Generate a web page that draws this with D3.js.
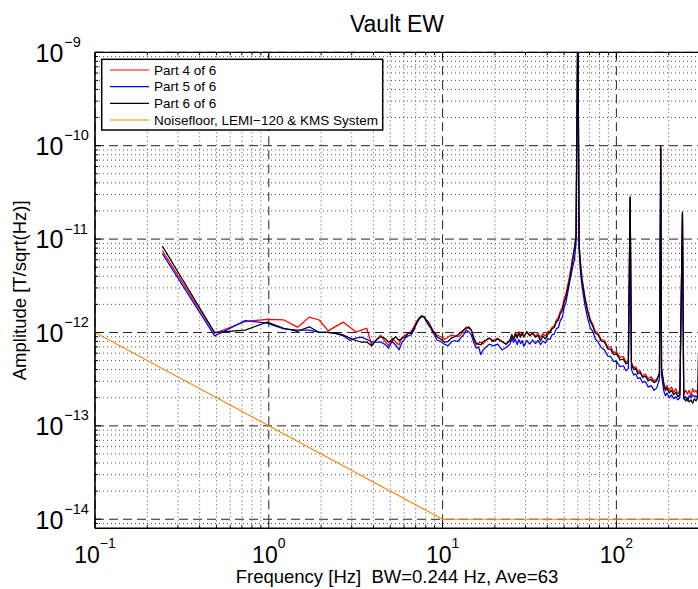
<!DOCTYPE html>
<html>
<head>
<meta charset="utf-8">
<script src="https://cdn.jsdelivr.net/npm/d3@7"></script>
<style>
  html, body { margin: 0; padding: 0; background: #fff; }
  svg { display: block; font-family: "Liberation Sans", Arial, Helvetica, sans-serif; }
</style>
</head>
<body>
<svg id="chart" width="698" height="589"></svg>
<script>
// ---------------- DATA ----------------
const titleText = "Vault EW";
const xLabelText = "Frequency [Hz]  BW=0.244 Hz, Ave=63";
const yLabelText = "Amplitude [T/sqrt(Hz)]";
const seriesNames = ["Part 4 of 6", "Part 5 of 6", "Part 6 of 6", "Noisefloor, LEMI\u2212120 & KMS System"];

const xMajorTicks = [0.1, 1, 10, 100];
const xTickExponents = ["\u22121", "0", "1", "2"];
const yMajorTicks = [1e-9, 1e-10, 1e-11, 1e-12, 1e-13, 1e-14];
const yTickExponents = ["\u22129", "\u221210", "\u221211", "\u221212", "\u221213", "\u221214"];

const freqs = [
  0.244, 0.488, 0.732, 0.977, 1.221, 1.465, 1.709, 1.953, 2.197, 2.441,
  2.686, 2.930, 3.174, 3.418, 3.662, 3.906, 4.150, 4.395, 4.639, 4.883,
  5.127, 5.371, 5.615, 5.859, 6.104, 6.348, 6.592, 6.836, 7.080, 7.324,
  7.568, 7.813, 8.057, 8.301, 8.545, 8.789, 9.033, 9.277, 9.766, 10.25,
  10.74, 11.23, 11.72, 12.21, 12.70, 13.18, 13.67, 14.16, 14.65, 15.14,
  15.63, 16.11, 16.60,
  17.09, 17.82, 18.55, 19.53, 20.75, 21.97, 23.19,
  24.41, 25.02, 25.63, 26.25, 26.86, 27.47, 28.08, 28.69, 29.30, 30.52,
  31.74, 32.96, 34.18, 35.40, 36.62, 37.84, 39.06, 40.28, 41.50, 42.72,
  43.95, 45.17, 46.39, 47.61, 48.83, 50.05, 51.27,
  53.71, 56.15, 57.37, 58.59, 60.00, 61.04, 62.26, 63.48, 65.92,
  68.36, 70.80, 73.24, 75.68, 78.13, 81.79, 85.45, 89.11, 92.77, 96.43,
  100.1, 105.0, 109.9, 113.5, 117.2, 120.0, 122.1, 125.7, 129.4, 133.1,
  136.7, 141.6, 146.5, 152.6, 158.7, 164.8, 170.9, 177.0, 180.0, 181.9,
  188.0, 191.7, 195.3, 201.4, 207.5, 213.6, 219.7, 225.8, 231.9, 240.0,
  244.1, 250.2, 256.3, 262.5, 268.6, 274.7, 280.8, 286.9, 293.0, 296.6,
  300.0
];

const part4 = [
  7.5e-12, 9.8e-13, 1.31e-12, 1.38e-12, 1.36e-12, 1.14e-12, 1.46e-12, 1.36e-12, 1.04e-12, 1.17e-12,
  1.29e-12, 1.14e-12, 1.01e-12, 1.06e-12, 1.11e-12, 7.35e-13, 8.3e-13, 9.3e-13, 8.2e-13, 7.2e-13,
  8.7e-13, 7.9e-13, 7.35e-13, 8.9e-13, 9.4e-13, 9.8e-13, 1.02e-12, 1.15e-12, 1.31e-12, 1.42e-12,
  1.51e-12, 1.48e-12, 1.36e-12, 1.31e-12, 1.17e-12, 1.06e-12, 9.8e-13, 9.4e-13, 9.0e-13, 8.45e-13,
  8.9e-13, 9.4e-13, 9.2e-13, 9.0e-13, 9.4e-13, 1.05e-12, 1.14e-12, 1.1e-12, 1.06e-12, 8.3e-13,
  7.35e-13, 7.7e-13, 7.9e-13,
  7.5e-13, 8.3e-13, 8.7e-13, 8.2e-13, 8.7e-13, 8.0e-13, 7.5e-13,
  8.3e-13, 9.6e-13, 8.6e-13, 1.0e-12, 9.0e-13, 1.02e-12, 9.2e-13, 1.01e-12, 8.9e-13, 1.03e-12,
  9.3e-13, 1.0e-12, 9.1e-13, 9.8e-13, 8.8e-13, 9.7e-13, 9.2e-13, 1.02e-12, 1.04e-12, 1.14e-12,
  1.18e-12, 1.36e-12, 1.45e-12, 1.7e-12, 1.85e-12, 2.3e-12, 2.6e-12,
  3.96e-12, 6.5e-12, 8.2e-12, 1.1e-11, 3e-9, 9.0e-12, 5.5e-12, 3.8e-12, 2.42e-12,
  1.74e-12, 1.38e-12, 1.22e-12, 1.02e-12, 1.0e-12, 8.4e-13, 8.2e-13, 7.0e-13, 7.0e-13, 6.1e-13,
  6.2e-13, 5.4e-13, 5.5e-13, 4.8e-13, 5.0e-13, 2.9e-11, 4.8e-13, 4.2e-13, 4.3e-13, 3.8e-13,
  3.9e-13, 3.4e-13, 3.6e-13, 3.2e-13, 3.35e-13, 3.0e-13, 3.2e-13, 3.6e-13, 9.5e-11, 4.0e-13,
  2.8e-13, 2.5e-13, 2.7e-13, 2.4e-13, 2.6e-13, 2.3e-13, 2.5e-13, 2.2e-13, 2.4e-13, 1.85e-11,
  2.2e-13, 2.4e-13, 2.2e-13, 2.4e-13, 2.1e-13, 2.5e-13, 2.3e-13, 2.4e-13, 2.2e-13, 2.3e-13,
  2.2e-13
];

const part5 = [
  7.0e-12, 9.2e-13, 1.34e-12, 1.26e-12, 1.09e-12, 1.06e-12, 1.06e-12, 1.0e-12, 1.0e-12, 9.7e-13,
  9.2e-13, 8.2e-13, 8.7e-13, 8.9e-13, 8.45e-13, 7.9e-13, 7.9e-13, 7.9e-13, 7.5e-13, 6.8e-13,
  8.0e-13, 7.35e-13, 6.5e-13, 7.9e-13, 8.7e-13, 9.2e-13, 9.4e-13, 1.06e-12, 1.24e-12, 1.38e-12,
  1.48e-12, 1.46e-12, 1.31e-12, 1.2e-12, 1.11e-12, 1.0e-12, 9.2e-13, 8.3e-13, 8.0e-13, 7.5e-13,
  7.2e-13, 7.9e-13, 8.2e-13, 8.0e-13, 8.7e-13, 9.4e-13, 1.06e-12, 1.02e-12, 9.4e-13, 7.7e-13,
  6.8e-13, 7.0e-13, 5.8e-13,
  6.5e-13, 7.0e-13, 7.5e-13, 7.2e-13, 7.5e-13, 6.5e-13, 6.9e-13,
  7.5e-13, 8.6e-13, 7.8e-13, 8.5e-13, 7.4e-13, 8.4e-13, 7.6e-13, 8.2e-13, 7.1e-13, 8.2e-13,
  7.5e-13, 8.3e-13, 7.6e-13, 8.2e-13, 7.4e-13, 8.1e-13, 7.7e-13, 8.6e-13, 8.4e-13, 9.5e-13,
  9.6e-13, 1.1e-12, 1.13e-12, 1.35e-12, 1.45e-12, 1.85e-12, 2.1e-12,
  3.37e-12, 5.1e-12, 6.0e-12, 9.0e-12, 2.5e-9, 7.4e-12, 4.3e-12, 3.1e-12, 1.96e-12,
  1.42e-12, 1.12e-12, 1.02e-12, 8.5e-13, 8.0e-13, 6.9e-13, 6.5e-13, 5.6e-13, 5.5e-13, 4.9e-13,
  4.9e-13, 4.3e-13, 4.4e-13, 3.9e-13, 4.1e-13, 2.7e-11, 4.0e-13, 3.5e-13, 3.6e-13, 3.2e-13,
  3.3e-13, 2.9e-13, 3.0e-13, 2.6e-13, 2.7e-13, 2.4e-13, 2.55e-13, 3.2e-13, 9.0e-11, 3.5e-13,
  2.3e-13, 2.1e-13, 2.25e-13, 2.0e-13, 2.15e-13, 1.95e-13, 2.05e-13, 1.9e-13, 2.0e-13, 1.95e-11,
  1.95e-13, 2.05e-13, 1.85e-13, 2.1e-13, 2.0e-13, 2.15e-13, 2.05e-13, 2.1e-13, 2.0e-13, 2.1e-13,
  2.0e-13
];

const part6 = [
  8.4e-12, 1.0e-12, 1.06e-12, 1.29e-12, 1.11e-12, 1.03e-12, 1.15e-12, 1.0e-12, 1.0e-12, 9.8e-13,
  9.4e-13, 8.7e-13, 8.2e-13, 7.9e-13, 7.9e-13, 7.2e-13, 8.3e-13, 9.0e-13, 8.7e-13, 7.9e-13,
  8.2e-13, 9.0e-13, 8.2e-13, 8.7e-13, 9.0e-13, 9.8e-13, 9.8e-13, 1.11e-12, 1.26e-12, 1.42e-12,
  1.5e-12, 1.48e-12, 1.36e-12, 1.24e-12, 1.15e-12, 1.03e-12, 9.8e-13, 9.0e-13, 8.45e-13, 7.9e-13,
  8.0e-13, 8.7e-13, 9.0e-13, 9.4e-13, 1.0e-12, 1.06e-12, 1.11e-12, 1.15e-12, 1.06e-12, 8.7e-13,
  7.7e-13, 7.5e-13, 7.35e-13,
  8.0e-13, 8.3e-13, 8.7e-13, 8.0e-13, 8.45e-13, 8.0e-13, 7.5e-13,
  8.2e-13, 9.3e-13, 8.4e-13, 9.7e-13, 8.7e-13, 9.9e-13, 8.9e-13, 1.0e-12, 9.0e-13, 1.01e-12,
  9.2e-13, 9.8e-13, 8.9e-13, 9.3e-13, 8.1e-13, 9.2e-13, 8.5e-13, 9.6e-13, 1.0e-12, 1.1e-12,
  1.13e-12, 1.3e-12, 1.36e-12, 1.6e-12, 1.72e-12, 2.1e-12, 2.4e-12,
  3.6e-12, 6.0e-12, 7.9e-12, 1.05e-11, 3e-9, 8.2e-12, 5.1e-12, 3.6e-12, 2.3e-12,
  1.67e-12, 1.32e-12, 1.16e-12, 9.8e-13, 9.5e-13, 8.1e-13, 7.9e-13, 6.7e-13, 6.6e-13, 5.8e-13,
  5.9e-13, 5.1e-13, 5.2e-13, 4.6e-13, 4.8e-13, 2.8e-11, 4.6e-13, 4.0e-13, 4.1e-13, 3.6e-13,
  3.75e-13, 3.3e-13, 3.4e-13, 3.05e-13, 3.15e-13, 2.9e-13, 3.05e-13, 3.7e-13, 1.0e-10, 4.2e-13,
  2.65e-13, 2.4e-13, 2.55e-13, 2.25e-13, 2.4e-13, 2.15e-13, 2.3e-13, 2.05e-13, 2.15e-13, 1.9e-11,
  2.0e-13, 1.85e-13, 2.0e-13, 1.8e-13, 1.9e-13, 1.75e-13, 1.95e-13, 1.85e-13, 2.0e-13, 6.0e-13,
  2.0e-13
];

const noiseFreqs = [0.1, 10, 300];
const noiseVals = [1e-12, 1e-14, 1e-14];

const seriesColors = ["#ff0000", "#0000ff", "#000000", "#ff8000"];

// ---------------- LAYOUT ----------------
const svg = d3.select("#chart");
const pL = 95, pR = 699.3, pT = 52.3, pB = 528.3;
const x = d3.scaleLog().domain([0.1, 300]).range([pL, pR]);
const y = d3.scaleLog().domain([8e-15, 1e-9]).range([pB, pT]);

const xMinor = [];
[0.1, 1, 10, 100].forEach(d => {
  for (let m = 2; m <= 9; m++) { const v = +(d * m).toPrecision(3); if (v < 299) xMinor.push(v); }
});
const yMinor = [9e-15];
[1e-14, 1e-13, 1e-12, 1e-11, 1e-10].forEach(d => {
  for (let m = 2; m <= 9; m++) yMinor.push(+(d * m).toPrecision(3));
});

const grid = svg.append("g");
grid.selectAll(".xmin").data(xMinor).enter().append("line")
  .attr("x1", d => x(d)).attr("x2", d => x(d)).attr("y1", pT).attr("y2", pB)
  .attr("stroke", "#555").attr("stroke-width", 1).attr("stroke-dasharray", "1,3");
grid.selectAll(".ymin").data(yMinor).enter().append("line")
  .attr("x1", pL).attr("x2", pR).attr("y1", d => y(d)).attr("y2", d => y(d))
  .attr("stroke", "#555").attr("stroke-width", 1).attr("stroke-dasharray", "1,3");
grid.selectAll(".xmaj").data(xMajorTicks).enter().append("line")
  .attr("x1", d => x(d)).attr("x2", d => x(d)).attr("y1", pT).attr("y2", pB)
  .attr("stroke", "#222").attr("stroke-width", 1).attr("stroke-dasharray", "9,5");
grid.selectAll(".ymaj").data(yMajorTicks).enter().append("line")
  .attr("x1", pL).attr("x2", pR).attr("y1", d => y(d)).attr("y2", d => y(d))
  .attr("stroke", "#222").attr("stroke-width", 1).attr("stroke-dasharray", "9,5");

const ticks = svg.append("g").attr("stroke", "#000").attr("stroke-width", 1);
xMajorTicks.forEach(v => {
  ticks.append("line").attr("x1", x(v)).attr("x2", x(v)).attr("y1", pB).attr("y2", pB - 6);
  ticks.append("line").attr("x1", x(v)).attr("x2", x(v)).attr("y1", pT).attr("y2", pT + 6);
});
xMinor.forEach(v => {
  ticks.append("line").attr("x1", x(v)).attr("x2", x(v)).attr("y1", pB).attr("y2", pB - 3);
  ticks.append("line").attr("x1", x(v)).attr("x2", x(v)).attr("y1", pT).attr("y2", pT + 3);
});
yMajorTicks.forEach(v => {
  ticks.append("line").attr("x1", pL).attr("x2", pL + 6).attr("y1", y(v)).attr("y2", y(v));
});
yMinor.forEach(v => {
  ticks.append("line").attr("x1", pL).attr("x2", pL + 3).attr("y1", y(v)).attr("y2", y(v));
});

svg.append("clipPath").attr("id", "plotclip").append("rect")
  .attr("x", pL).attr("y", pT).attr("width", pR - pL).attr("height", pB - pT);
const plot = svg.append("g").attr("clip-path", "url(#plotclip)");

const line = d3.line().x(d => x(d[0])).y(d => y(d[1]));
const allSeries = [part4, part5, part6];
plot.append("path").datum(noiseFreqs.map((f, i) => [f, noiseVals[i]]))
  .attr("d", line).attr("fill", "none").attr("stroke", seriesColors[3]).attr("stroke-width", 1.1);
allSeries.forEach((s, si) => {
  const n = Math.min(s.length, freqs.length);
  plot.append("path").datum(freqs.slice(0, n).map((f, i) => [f, s[i]]))
    .attr("d", line).attr("fill", "none").attr("stroke", seriesColors[si])
    .attr("stroke-width", 1.25).attr("stroke-linejoin", "round");
});

svg.append("line").attr("x1", pL).attr("x2", pL).attr("y1", pT).attr("y2", pB)
  .attr("stroke", "#000").attr("stroke-width", 1.6);
svg.append("line").attr("x1", pL).attr("x2", pR).attr("y1", pB).attr("y2", pB)
  .attr("stroke", "#000").attr("stroke-width", 1.6);
svg.append("line").attr("x1", pL).attr("x2", pR).attr("y1", pT).attr("y2", pT)
  .attr("stroke", "#000").attr("stroke-width", 1.3);

xMajorTicks.forEach((v, i) => {
  const t = svg.append("text").attr("x", x(v)).attr("y", 562.7)
    .attr("text-anchor", "middle").attr("font-size", 23).attr("fill", "#000");
  t.append("tspan").text("10");
  t.append("tspan").attr("dy", -14.5).attr("font-size", 14).text(xTickExponents[i]);
});
yMajorTicks.forEach((v, i) => {
  const t = svg.append("text").attr("x", 35.5).attr("y", y(v) + 9.3)
    .attr("text-anchor", "start").attr("font-size", 25).attr("fill", "#000");
  t.append("tspan").text("10");
  t.append("tspan").attr("dy", -14.8).attr("dx", 1).attr("font-size", 14.5).text(yTickExponents[i]);
});

svg.append("text").attr("x", 397).attr("y", 31.5).attr("text-anchor", "middle")
  .attr("font-size", 23).text(titleText);
svg.append("text").attr("x", 397).attr("y", 582.5).attr("text-anchor", "middle")
  .attr("font-size", 18.5).style("white-space", "pre").text(xLabelText);
svg.append("text").attr("transform", "translate(26," + ((pT + pB) / 2) + ") rotate(-90)")
  .attr("text-anchor", "middle").attr("font-size", 18.5).text(yLabelText);

const lg = svg.append("g");
lg.append("rect").attr("x", 101.7).attr("y", 59.3).attr("width", 281).attr("height", 70.7)
  .attr("fill", "#fff").attr("stroke", "#000").attr("stroke-width", 1.5);
seriesNames.forEach((name, i) => {
  const yy = 70 + i * 16.67;
  lg.append("line").attr("x1", 110).attr("x2", 149).attr("y1", yy).attr("y2", yy)
    .attr("stroke", seriesColors[i]).attr("stroke-width", 1.2);
  lg.append("text").attr("x", 154).attr("y", yy + 4.8).attr("font-size", 13.5).text(name);
});
</script>
</body>
</html>
